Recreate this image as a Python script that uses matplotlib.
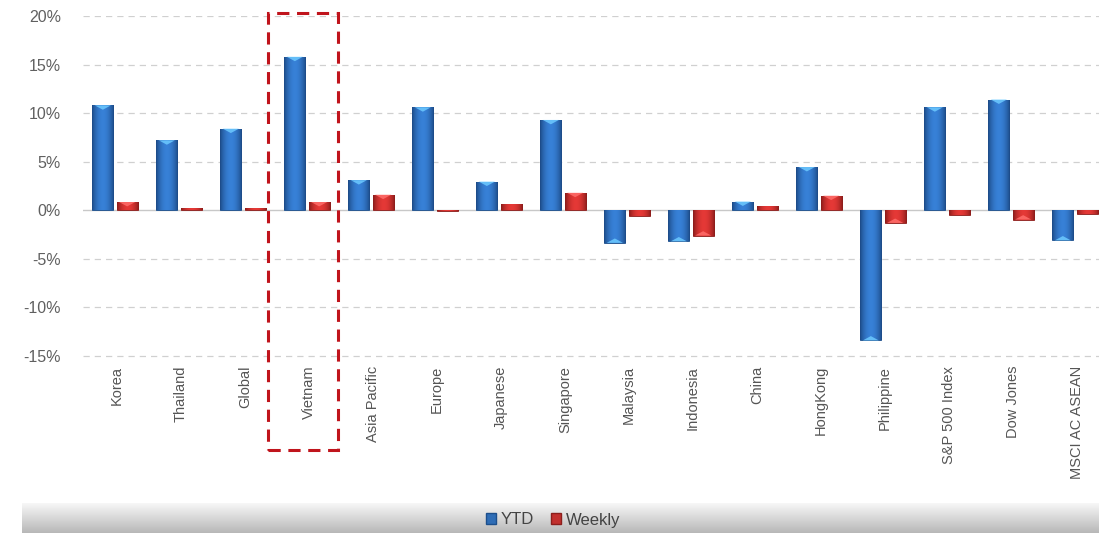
import matplotlib
matplotlib.use("Agg")
import matplotlib.pyplot as plt
import numpy as np
from matplotlib.patches import Rectangle
from matplotlib.colors import to_rgb

categories = ["Korea", "Thailand", "Global", "Vietnam", "Asia Pacific", "Europe",
              "Japanese", "Singapore", "Malaysia", "Indonesia", "China", "HongKong",
              "Philippine", "S&P 500 Index", "Dow Jones", "MSCI AC ASEAN"]
ytd = [10.8, 7.2, 8.4, 15.8, 3.1, 10.6, 2.95, 9.3, -3.35, -3.2, 0.9, 4.45,
       -13.4, 10.6, 11.4, -3.1]
weekly = [0.85, 0.25, 0.25, 0.85, 1.6, -0.1, 0.6, 1.8, -0.6, -2.6, 0.45, 1.5,
          -1.3, -0.45, -0.95, -0.4]
yticks = [-15, -10, -5, 0, 5, 10, 15, 20]
series_names = ["YTD", "Weekly"]

W, H = 1099, 533
fig = plt.figure(figsize=(W / 100, H / 100), dpi=100)
fig.patch.set_facecolor("white")

# bottom gradient band
bg = fig.add_axes([22 / W, 0, 1 - 22 / W, 30 / H])
grad = np.linspace(0.97, 0.72, 64).reshape(-1, 1)
bg.imshow(np.dstack([grad, grad, grad]), aspect="auto", extent=[0, 1, 0, 1], origin="upper")
bg.set_axis_off()

ymin, ymax = -15.3, 20
ppu = (356 - 16) / 35.0
top_px = 16
bot_px = 356 + 0.3 * ppu
left, right = 83 / W, 1.0
ax = fig.add_axes([left, 1 - bot_px / H, right - left, (bot_px - top_px) / H])
x = np.arange(len(categories))
bw = 0.33
off = 0.19
blue = "#2f6db6"
red = "#c2302e"
b1 = ax.bar(x - off, ytd, bw, color=blue, edgecolor="#1d4f8c", linewidth=0.6, zorder=3)
b2 = ax.bar(x + off, weekly, bw, color=red, edgecolor="#8c1e1c", linewidth=0.6, zorder=3)


def shade(bars, base, dark):
    c = np.array(to_rgb(base))
    d = np.array(to_rgb(dark))
    t = np.linspace(0, 1, 32)
    prof = np.sin(np.pi * t) ** 0.8
    cols = d[None, :] * (1 - prof[:, None]) + np.minimum(c * 1.18, 1)[None, :] * prof[:, None]
    img = cols[None, :, :]
    for b in bars:
        x0, y0 = b.get_x(), b.get_y()
        w, h = b.get_width(), b.get_height()
        im = ax.imshow(img, extent=[x0, x0 + w, y0, y0 + h], aspect="auto",
                       zorder=3.5, interpolation="bilinear")
        im.set_clip_path(b)
        yy = max(y0, y0 + h) if h >= 0 else min(y0, y0 + h)
        capd = 0.45 if h >= 0 else -0.45
        if abs(h) > 0.6:
            tri = plt.Polygon([[x0 + w * 0.12, yy], [x0 + w * 0.88, yy], [x0 + w * 0.5, yy - capd]],
                              closed=True, facecolor=np.minimum(c * 1.5 + 0.15, 1), edgecolor="none",
                              alpha=0.85, zorder=3.6)
            ax.add_patch(tri)


shade(b1, blue, "#1c4a86")
shade(b2, red, "#8a1c1a")

ax.set_ylim(ymin, ymax)
ax.set_xlim(-0.5, -0.5 + (W - 83) / 64.0)
ax.set_yticks(yticks)
ax.set_yticklabels([f"{v}%" for v in yticks])
for v in yticks:
    if v == 0:
        ax.axhline(v, color="#c8c8c8", lw=1.0, zorder=2)
    else:
        ax.axhline(v, color="#d0d0d0", lw=0.9, ls=(0, (5, 4)), zorder=1)
ax.set_xticks(x + 0.03)
ax.set_xticklabels(categories, rotation=90, family="Liberation Sans", fontsize=10.5, color="#555555")
ax.tick_params(axis="y", length=0, pad=16, labelsize=11.5, labelcolor="#606060")
ax.tick_params(axis="x", length=0, pad=5)
for lab in ax.get_yticklabels():
    lab.set_family("Liberation Sans")
for s in ax.spines.values():
    s.set_visible(False)
ax.set_facecolor("none")

# highlight box around Vietnam
fig.patches.append(Rectangle((268 / W, 1 - 450 / H), 70 / W, 437 / H, transform=fig.transFigure,
                             fill=False, edgecolor="#c0141c", lw=2.2, ls=(0, (4, 2.5)), zorder=10))

handles = [Rectangle((0, 0), 1, 1, facecolor=blue, edgecolor="#1d4f8c"),
           Rectangle((0, 0), 1, 1, facecolor=red, edgecolor="#8c1e1c")]
leg = fig.legend(handles, series_names, loc="center", bbox_to_anchor=(553 / W, 1 - 520 / H),
                 ncol=2, frameon=False, handlelength=0.6, handleheight=0.6, handletextpad=0.3,
                 columnspacing=1.0, prop={"family": "Liberation Sans", "size": 12})
for t in leg.get_texts():
    t.set_color("#444444")

fig.savefig("out.png", dpi=100)
